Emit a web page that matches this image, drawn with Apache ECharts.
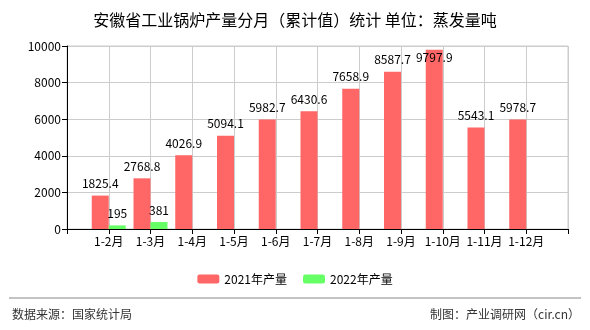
<!DOCTYPE html>
<html>
<head>
<meta charset="utf-8">
<script src="https://cdn.jsdelivr.net/npm/echarts@6/dist/echarts.min.js"></script>
<style>
  html, body { margin: 0; padding: 0; background: #fff; }
  #chart { width: 590px; height: 330px; }
</style>
</head>
<body>
<div id="chart"></div>
<script>
// Monthly cumulative output of industrial boilers, Anhui (evaporation tonnes)
const categories = ['1-2月', '1-3月', '1-4月', '1-5月', '1-6月', '1-7月', '1-8月', '1-9月', '1-10月', '1-11月', '1-12月'];
const output2021 = [1825.4, 2768.8, 4026.9, 5094.1, 5982.7, 6430.6, 7658.9, 8587.7, 9797.9, 5543.1, 5978.7];
const output2022 = [195, 381, null, null, null, null, null, null, null, null, null];
const yTicks = { min: 0, max: 10000, interval: 2000 };

const FONT = '"Noto Sans CJK SC", sans-serif';

// Pad both ends so the axis ticks fall on the category centres
const axisCats = [''].concat(categories, ['']);
const pad = arr => [null].concat(arr, [null]);

const data2021 = pad(output2021).map(v => {
  if (v === null) return null;
  // tallest bar keeps its label inside the plot area
  if (v > 9500) return { value: v, label: { position: 'insideTop', distance: 2 } };
  return v;
});

const chart = echarts.init(document.getElementById('chart'));
chart.setOption({
  animation: false,
  title: {
    text: '安徽省工业锅炉产量分月（累计值）统计 单位：蒸发量吨',
    left: 'center',
    top: 7,
    textStyle: { fontFamily: FONT, fontSize: 16, fontWeight: 'normal', color: '#000' }
  },
  legend: {
    top: 268,
    left: 'center',
    itemWidth: 22,
    itemHeight: 9,
    itemGap: 16,
    textStyle: { fontFamily: FONT, fontSize: 12, color: '#000' },
    data: ['2021年产量', '2022年产量']
  },
  grid: { left: 67, right: 22, top: 46, bottom: 101, show: true, borderColor: '#ccc', borderWidth: 1 },
  xAxis: {
    type: 'category',
    data: axisCats,
    boundaryGap: false,
    axisLine: { lineStyle: { color: '#000', width: 1 } },
    axisTick: { show: true, length: 5, lineStyle: { color: '#000' } },
    axisLabel: { interval: 0, fontFamily: FONT, fontSize: 12, color: '#000', margin: 6 },
    splitLine: { show: true, lineStyle: { color: '#ccc' } }
  },
  yAxis: {
    type: 'value',
    min: yTicks.min,
    max: yTicks.max,
    interval: yTicks.interval,
    axisLine: { show: true, lineStyle: { color: '#000', width: 1 } },
    axisTick: { show: true, length: 5, lineStyle: { color: '#000' } },
    axisLabel: { fontFamily: FONT, fontSize: 12, color: '#000', margin: 6, formatter: v => String(v) },
    splitLine: { show: true, lineStyle: { color: '#ccc' } }
  },
  series: [
    {
      name: '2021年产量',
      type: 'bar',
      data: data2021,
      barWidth: 17,
      barGap: '0%',
      itemStyle: { color: '#ff6666' },
      label: { show: true, position: 'top', distance: 6, fontFamily: FONT, fontSize: 12, color: '#000' }
    },
    {
      name: '2022年产量',
      type: 'bar',
      data: pad(output2022),
      barWidth: 17,
      barGap: '0%',
      itemStyle: { color: '#66ff66' },
      label: { show: true, position: 'top', distance: 6, fontFamily: FONT, fontSize: 12, color: '#000' }
    }
  ],
  graphic: [
    { type: 'line', shape: { x1: 9, y1: 298, x2: 581, y2: 298 }, style: { stroke: '#888', lineWidth: 1 } },
    { type: 'text', left: 12, top: 308, style: { text: '数据来源：国家统计局', font: '12px ' + FONT, fill: '#333' } },
    { type: 'text', right: 10, top: 308, style: { text: '制图：产业调研网（cir.cn）', font: '12px ' + FONT, fill: '#333' } }
  ]
});
</script>
</body>
</html>
